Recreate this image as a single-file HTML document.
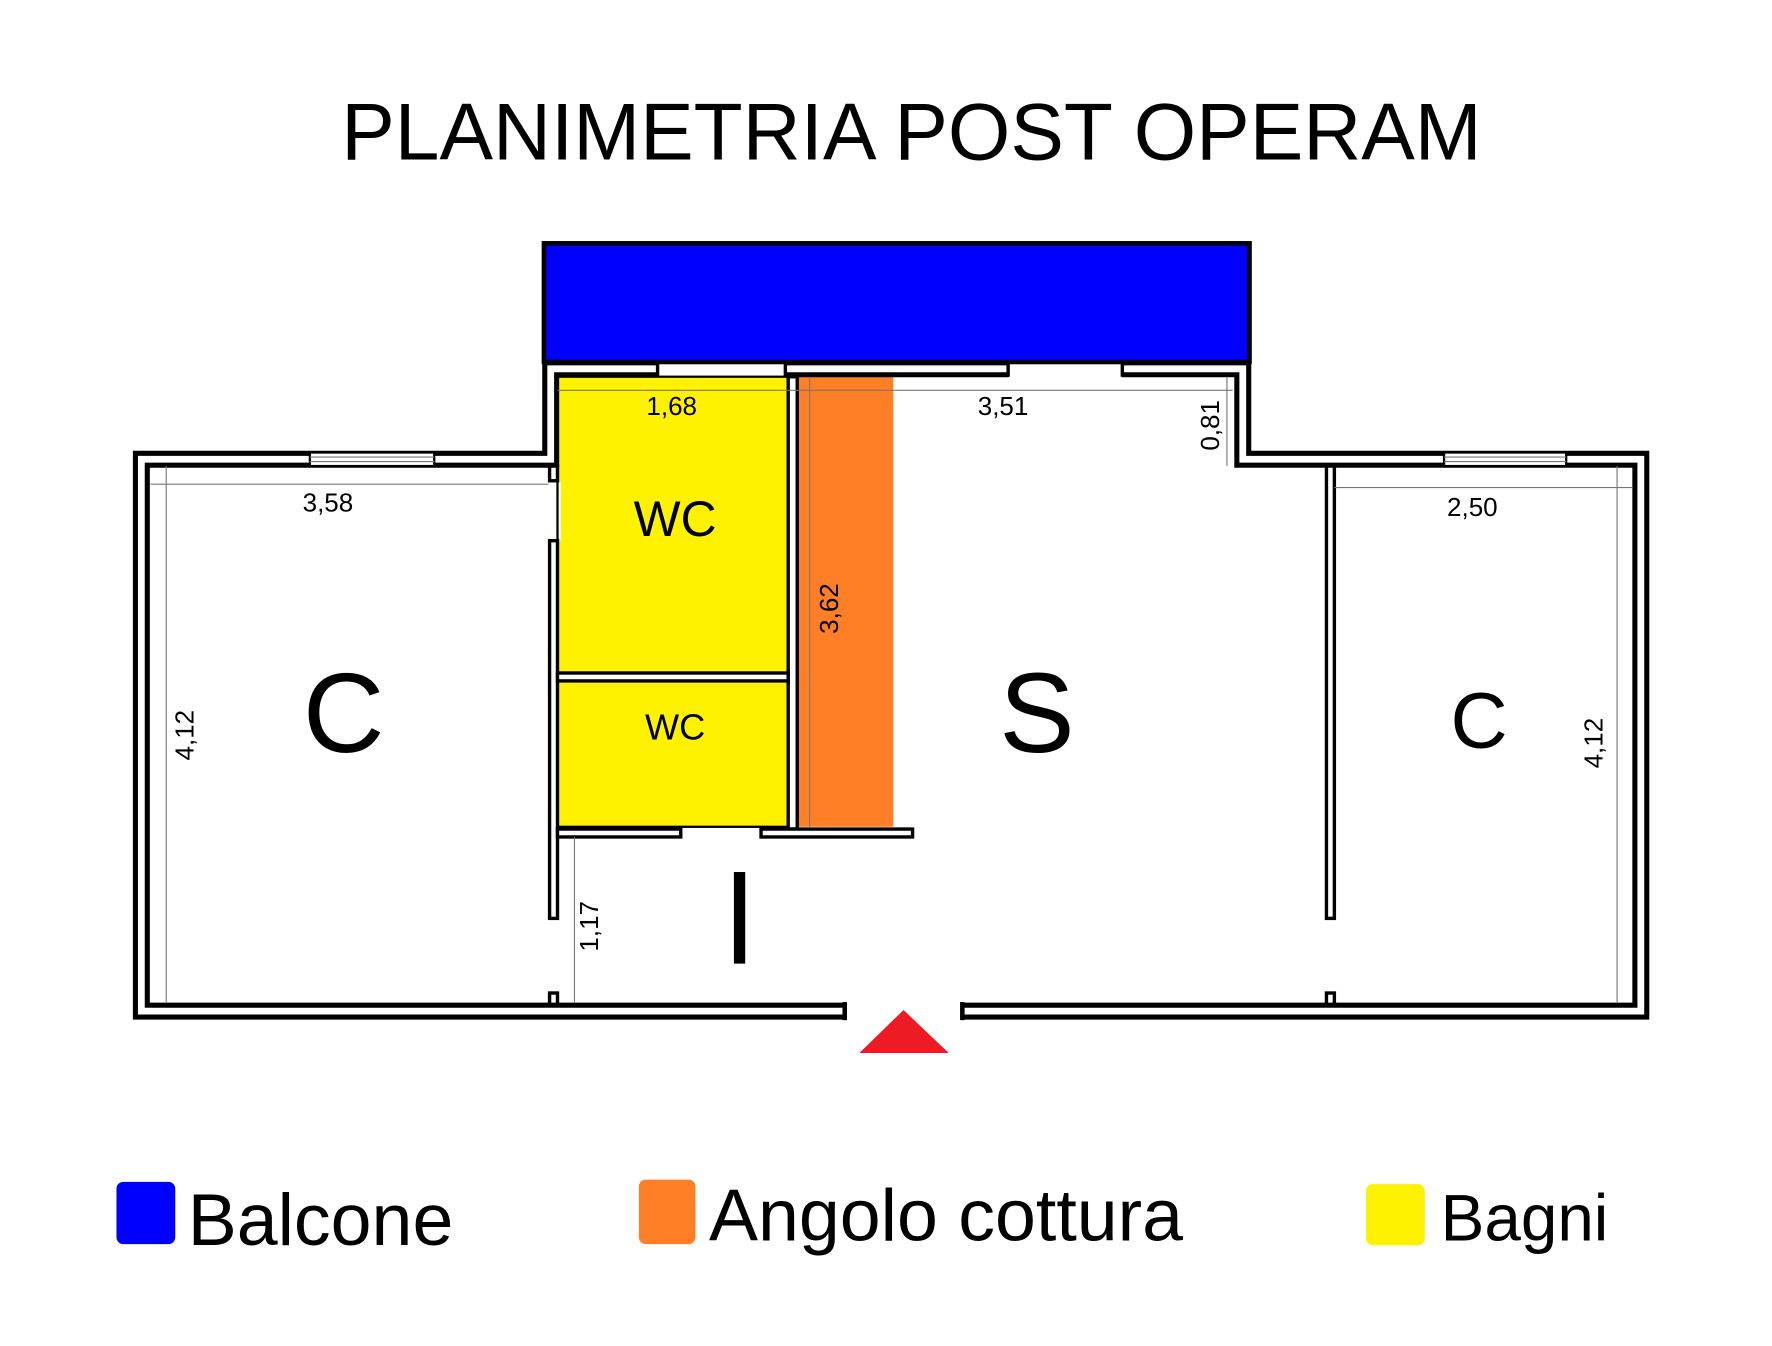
<!DOCTYPE html>
<html><head><meta charset="utf-8"><style>html,body{margin:0;padding:0;background:#fff}svg{display:block}</style></head>
<body>
<svg width="1772" height="1346" viewBox="0 0 1567 1190" xmlns="http://www.w3.org/2000/svg" font-family="Liberation Sans, sans-serif">
<rect width="1567" height="1190" fill="#fff"/>
<text x="806" y="141" font-size="71" text-anchor="middle">PLANIMETRIA POST OPERAM</text>
<rect x="493" y="333" width="204" height="262" fill="#fff200"/>
<rect x="493" y="602" width="204" height="129" fill="#fff200"/>
<rect x="705" y="333" width="85" height="398" fill="#ff7f27"/>
<path d="M748,894 L125,894 L125,406 L487,406 L487,326 L1099,326 L1099,406 L1451,406 L1451,894 L850,894" fill="none" stroke="#000" stroke-width="15" stroke-linejoin="miter"/>
<path d="M746,894 L125,894 L125,406 L487,406 L487,326 L1099,326 L1099,406 L1451,406 L1451,894 L852,894" fill="none" stroke="#fff" stroke-width="6" stroke-linejoin="miter"/>
<rect x="745" y="886" width="4" height="16" fill="#000"/>
<rect x="849" y="886" width="4" height="16" fill="#000"/>
<rect x="274" y="400" width="110" height="12" fill="#fff" stroke="#000" stroke-width="2"/>
<line x1="274" y1="404" x2="384" y2="404" stroke="#777" stroke-width="1"/><line x1="274" y1="408" x2="384" y2="408" stroke="#777" stroke-width="1"/>
<rect x="1277" y="400" width="108" height="12" fill="#fff" stroke="#000" stroke-width="2"/>
<line x1="1277" y1="404" x2="1385" y2="404" stroke="#777" stroke-width="1"/><line x1="1277" y1="408" x2="1385" y2="408" stroke="#777" stroke-width="1"/>
<rect x="582" y="318" width="112" height="16" fill="#fff"/>
<rect x="892" y="318" width="100" height="16" fill="#fff"/>
<rect x="580" y="320" width="3" height="13" fill="#000"/><rect x="693" y="320" width="3" height="13" fill="#000"/>
<rect x="890" y="320" width="3" height="13" fill="#000"/><rect x="991" y="320" width="3" height="13" fill="#000"/>
<rect x="484" y="426" width="12" height="52" fill="#fff"/>
<rect x="481" y="215" width="624" height="105" fill="#0000ff" stroke="#000" stroke-width="4"/>
<g fill="#fff" stroke="#000" stroke-width="3">
<rect x="486" y="478" width="7" height="334"/>
<rect x="486" y="412" width="7" height="13"/>
<rect x="486" y="878" width="7" height="10"/>
<rect x="697" y="333" width="8" height="400"/>
<rect x="493" y="595" width="204" height="7"/>
<rect x="493" y="733" width="109" height="7"/>
<rect x="673" y="733" width="134" height="7"/>
<rect x="1173" y="412" width="7" height="400"/>
<rect x="1173" y="878" width="7" height="10"/>
</g>
<rect x="493" y="333" width="204" height="262" fill="none" stroke="#000" stroke-width="2"/>
<rect x="493" y="602" width="204" height="129" fill="none" stroke="#000" stroke-width="2"/>
<g stroke="#777" stroke-width="1">
<line x1="133" y1="428" x2="485" y2="428"/>
<line x1="147" y1="412" x2="147" y2="887"/>
<line x1="493" y1="345" x2="1090" y2="345"/>
<line x1="1085" y1="333" x2="1085" y2="412"/>
<line x1="716" y1="333" x2="716" y2="731"/>
<line x1="508" y1="740" x2="508" y2="887"/>
<line x1="1180" y1="431" x2="1444" y2="431"/>
<line x1="1430" y1="412" x2="1430" y2="887"/>
</g>
<g font-size="23" text-anchor="middle">
<text x="594" y="367">1,68</text>
<text x="887" y="367">3,51</text>
<text x="290" y="452">3,58</text>
<text x="1302" y="456">2,50</text>
<text transform="translate(1078,376) rotate(-90)">0,81</text>
<text transform="translate(741,538) rotate(-90)">3,62</text>
<text transform="translate(171,650) rotate(-90)">4,12</text>
<text transform="translate(1417,657) rotate(-90)">4,12</text>
<text transform="translate(529,819) rotate(-90)">1,17</text>
</g>
<text x="597" y="474" font-size="44" text-anchor="middle">WC</text>
<text x="597" y="654" font-size="32" text-anchor="middle">WC</text>
<text x="304" y="665" font-size="100" text-anchor="middle">C</text>
<text x="917" y="665" font-size="100" text-anchor="middle">S</text>
<text x="1308" y="661" font-size="70" text-anchor="middle">C</text>
<rect x="649" y="771" width="10" height="81" fill="#000"/>
<polygon points="760,931 839,931 799,893" fill="#ed1c24"/>
<rect x="103" y="1045" width="52" height="55" rx="6" fill="#0000ff"/>
<text x="166" y="1101" font-size="65">Balcone</text>
<rect x="565" y="1043" width="50" height="57" rx="6" fill="#ff7f27"/>
<text x="627" y="1097" font-size="65">Angolo cottura</text>
<rect x="1208" y="1047" width="52" height="54" rx="6" fill="#fff200"/>
<text x="1274" y="1097" font-size="58">Bagni</text>
</svg>
</body></html>
